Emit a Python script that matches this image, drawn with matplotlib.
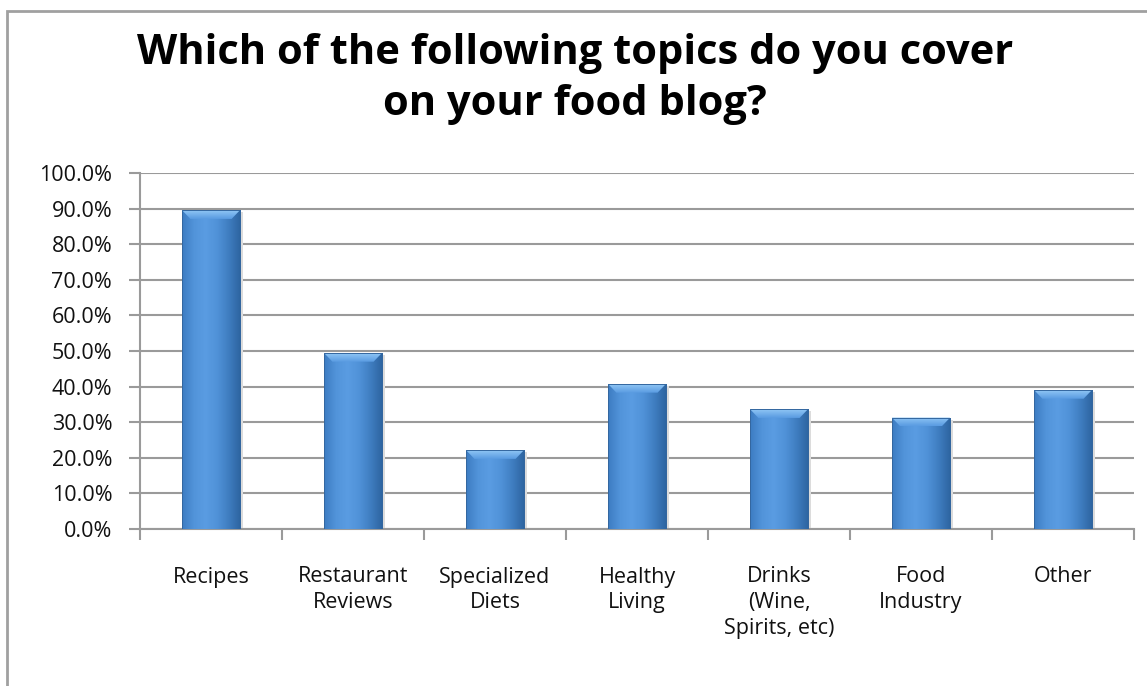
import numpy as np
import matplotlib
matplotlib.use("Agg")
import matplotlib.pyplot as plt
from matplotlib.patches import Rectangle, Polygon
import matplotlib.colors as mcolors

# survey answers, share of respondents (%)
topics = ["Recipes", "Restaurant\nReviews", "Specialized\nDiets", "Healthy\nLiving",
          "Drinks\n(Wine,\nSpirits, etc)", "Food\nIndustry", "Other"]
share = [89.6, 49.5, 22.2, 40.8, 33.7, 31.3, 39.1]
yticks = np.arange(0, 101, 10)

plt.rcParams['font.family'] = ['Open Sans', 'DejaVu Sans']

W, H = 1147, 686
fig = plt.figure(figsize=(W / 100, H / 100), dpi=100)
ax = fig.add_axes([140 / W, 1 - 529 / H, (1134 - 140) / W, (529 - 173) / H])

grid_col = "#9a9a9a"
x = np.arange(len(topics))
bw = 0.41

# side-to-side shading for the bars
bar_cmap = mcolors.LinearSegmentedColormap.from_list(
    "barshade", ["#3d7cc2", "#5294da", "#5a9ce2", "#5092d8", "#3f7dc0", "#2d64a0"])
grad = np.linspace(0, 1, 64).reshape(1, -1)
# top bevel fades from light to the body colour
bev_cmap = mcolors.LinearSegmentedColormap.from_list(
    "bevel", ["#5a9ce2", "#8fc5f4"])
bev_grad = np.linspace(0, 1, 16).reshape(-1, 1)

bars = ax.bar(x, share, width=bw, color="#4f8fd6", edgecolor="none", zorder=3)
for b, v in zip(bars, share):
    x0 = b.get_x()
    im = ax.imshow(grad, cmap=bar_cmap, aspect="auto", zorder=3.5,
                   extent=(x0, x0 + bw, 0, v), interpolation="bicubic")
    im.set_clip_path(b)
    bev_x, bev_y = 0.06, 2.5
    bev = Polygon([(x0, v), (x0 + bw, v), (x0 + bw - bev_x, v - bev_y),
                   (x0 + bev_x, v - bev_y)], closed=True,
                  facecolor="none", edgecolor="none", zorder=4)
    ax.add_patch(bev)
    bim = ax.imshow(bev_grad, cmap=bev_cmap, aspect="auto", zorder=4,
                    extent=(x0, x0 + bw, v - bev_y, v), origin="lower",
                    interpolation="bicubic")
    bim.set_clip_path(bev)
    ax.add_patch(Rectangle((x0, 0), bw, v, facecolor="none", edgecolor="#34679f",
                           linewidth=0.7, zorder=5))
    # soft shadow on the right
    ax.add_patch(Rectangle((x0 + bw, 0), 0.018, v - 0.6, facecolor="#dcdcdc",
                           edgecolor="none", zorder=2.5))

ax.set_xlim(-0.5, len(topics) - 0.5)
ax.set_ylim(0, 100)
ax.set_yticks(yticks)
ax.set_yticklabels([f"{t:.1f}%" for t in yticks], fontsize=15.5, color="#111111")
ax.yaxis.grid(True, color=grid_col, linewidth=1.5, zorder=1)
ax.set_axisbelow(True)

ax.set_xticks(np.arange(-0.5, len(topics)))
ax.set_xticklabels([])
ax.set_xticks(x, minor=True)
ax.set_xticklabels(topics, minor=True, fontsize=15.5, color="#111111",
                   linespacing=1.3, va="top")
ax.tick_params(axis="x", which="minor", length=0, pad=27)
ax.tick_params(axis="x", which="major", length=8, width=1.5, color=grid_col,
               direction="out")
ax.tick_params(axis="y", length=8, width=1.5, color=grid_col, pad=12)

for s in ["top", "right"]:
    ax.spines[s].set_visible(False)
for s in ["left", "bottom"]:
    ax.spines[s].set_color(grid_col)
    ax.spines[s].set_linewidth(1.5)

fig.text(0.501, 1 - 79 / H,
         "Which of the following topics do you cover\non your food blog?",
         ha="center", va="center", fontsize=30, fontweight="bold",
         color="#000000", linespacing=1.32)

# outer chart border
fig.patches.append(Rectangle((7 / W, -0.1), 1.2, 1 - 11 / H + 0.1,
                             transform=fig.transFigure, facecolor="none",
                             edgecolor="#a0a0a0", linewidth=2, zorder=0))

fig.savefig("out.png", dpi=100, facecolor="white")
